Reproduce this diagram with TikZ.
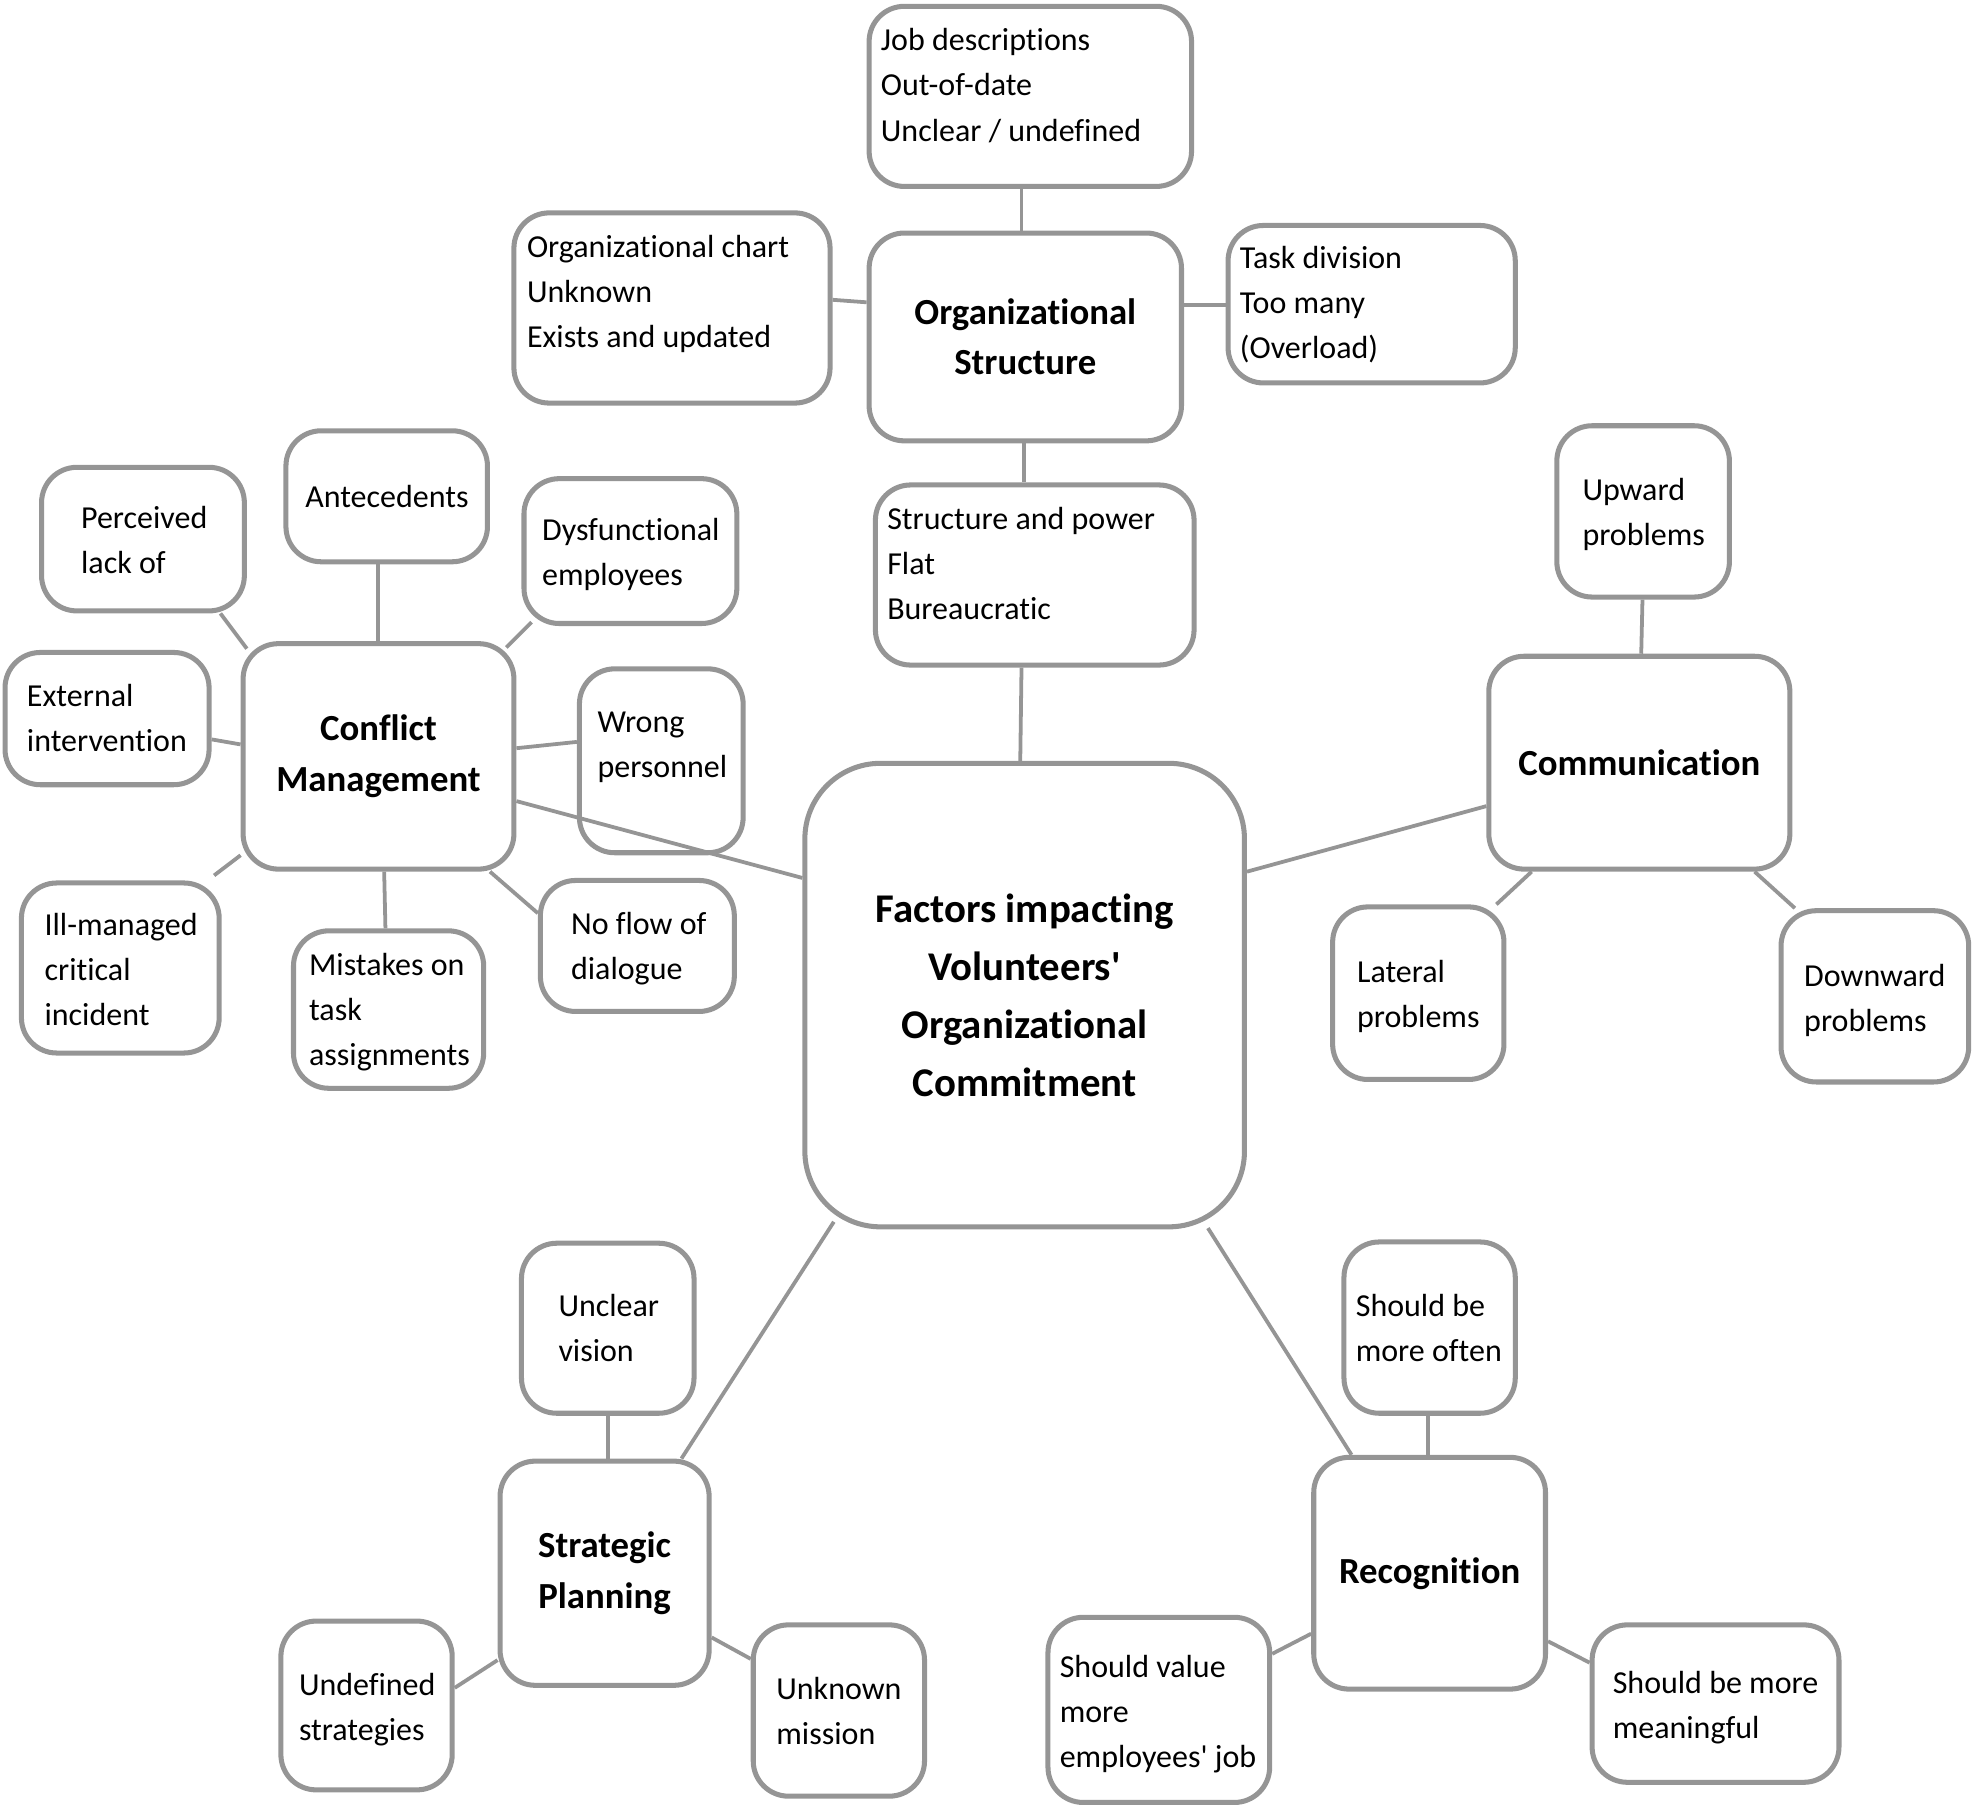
\documentclass[tikz,border=0pt]{standalone}
\usepackage{fontspec}
\setmainfont{Carlito}[Ligatures={TeXOff,NoCommon}]
\usetikzlibrary{fit,calc}
\definecolor{gl}{HTML}{959595}
\tikzset{
 bx/.style={draw=gl, line width=2pt, rounded corners=14pt, inner sep=0pt, fill=white},
 bigbx/.style={bx, rounded corners=30pt},
 txt/.style={align=left, inner sep=0pt, anchor=base west, font=\fontsize{12.7}{17.9}\selectfont},
 btxt/.style={align=center, inner sep=0pt, font=\fontsize{14.6}{20}\selectfont\bfseries},
 ctxt/.style={align=center, inner sep=0pt, font=\fontsize{16.2}{23}\selectfont\bfseries},
 ln/.style={draw=gl, line width=1.5pt},
}
\begin{document}
\begin{tikzpicture}[x=0.5pt, y=-0.5pt]
\useasboundingbox (0,0) rectangle (1568,1437);
% boxes
\node[bx, fit={(690,5) (946,148)}] (jd) {};
\node[bx, fit={(690,185) (938,350)}] (os) {};
\node[bx, fit={(408,169) (659,320)}] (oc) {};
\node[bx, fit={(975,179) (1203,304)}] (td) {};
\node[bx, fit={(695,385) (948,528)}] (sp) {};
\node[bigbx, fit={(639,606) (988,974)}] (ctr) {};
\node[bx, fit={(1182,521) (1421,690)}] (com) {};
\node[bx, fit={(1236,338) (1373,474)}] (up) {};
\node[bx, fit={(1058,720) (1194,857)}] (lat) {};
\node[bx, fit={(1414,723) (1563,859)}] (dn) {};
\node[bx, fit={(193,511) (408,690)}] (cm) {};
\node[bx, fit={(33,371) (194,485)}] (pl) {};
\node[bx, fit={(227,342) (387,446)}] (an) {};
\node[bx, fit={(416,380) (585,495)}] (dy) {};
\node[bx, fit={(4,518) (166,623)}] (ex) {};
\node[bx, fit={(460,531) (590,677)}] (wr) {};
\node[bx, fit={(17,701) (174,836)}] (il) {};
\node[bx, fit={(233,739) (384,864)}] (mi) {};
\node[bx, fit={(429,699) (583,803)}] (nf) {};
\node[bx, fit={(414,987) (551,1122)}] (uv) {};
\node[bx, fit={(397,1160) (563,1338)}] (spl) {};
\node[bx, fit={(223,1287) (359,1421)}] (ud) {};
\node[bx, fit={(598,1290) (734,1426)}] (um) {};
\node[bx, fit={(1067,986) (1203,1122)}] (so) {};
\node[bx, fit={(1043,1157) (1227,1341)}] (rec) {};
\node[bx, fit={(832,1284) (1008,1431)}] (sv) {};
\node[bx, fit={(1264,1290) (1460,1415)}] (mm) {};
% connectors
\draw[ln] (jd.south -| 811,0) -- (os.north -| 811,0);
\draw[ln] (oc.east |- 0,238) -- (os.west |- 0,240);
\draw[ln] (os.east |- 0,242) -- (td.west |- 0,242);
\draw[ln] (os.south -| 813,0) -- (sp.north -| 813,0);
\draw[ln] (sp.south -| 811,0) -- (ctr.north -| 810,0);
\draw[ln] (ctr.west |- 0,697) -- (cm.east |- 0,636);
\draw[ln] (ctr.east |- 0,692) -- (com.west |- 0,640);
\draw[ln] ($(ctr.south west)+(25,-6)$) -- (spl.north -| 541,0);
\draw[ln] ($(ctr.south east)+(-31,-1)$) -- (rec.north -| 1073,0);
\draw[ln] (com.north -| 1303,0) -- (up.south -| 1304,0);
\draw[ln] (com.south -| 1216,0) -- (lat.north -| 1188,0);
\draw[ln] (com.south -| 1393,0) -- (dn.north -| 1425,0);
\draw[ln] (pl.south -| 175,0) -- ($(cm.north west)+(5,6)$);
\draw[ln] (an.south -| 300,0) -- (cm.north -| 300,0);
\draw[ln] ($(dy.south west)+(8,-3)$) -- ($(cm.north east)+(-8,5)$);
\draw[ln] (ex.east |- 0,587) -- (cm.west |- 0,591);
\draw[ln] (cm.east |- 0,594) -- (wr.west |- 0,589);
\draw[ln] ($(il.north east)+(-6,-4)$) -- (cm.west |- 0,679);
\draw[ln] (cm.south -| 305,0) -- (mi.north -| 306,0);
\draw[ln] (cm.south -| 389,0) -- (nf.west |- 0,725);
\draw[ln] (uv.south -| 483,0) -- (spl.north -| 483,0);
\draw[ln] (ud.east |- 0,1340) -- (spl.west |- 0,1318);
\draw[ln] (spl.east |- 0,1300) -- (um.west |- 0,1317);
\draw[ln] (so.south -| 1134,0) -- (rec.north -| 1134,0);
\draw[ln] (sv.east |- 0,1313) -- (rec.west |- 0,1297);
\draw[ln] (rec.east |- 0,1303) -- (mm.west |- 0,1320);
% texts (anchored at the baseline of the last line)
\node[txt] (jd-t) at (699,112) {Job descriptions\\Out-of-date\\Unclear / undefined};
\node[btxt] (os-t) at (os.center) {Organizational\\Structure};
\node[txt] (oc-t) at (418,276) {Organizational chart\\Unknown\\Exists and updated};
\node[txt] (td-t) at (984,285) {Task division\\Too many\\(Overload)};
\node[txt] (sp-t) at (704,492) {Structure and power\\Flat\\Bureaucratic};
\node[ctxt] (ctr-t) at (ctr.center) {Factors impacting\\Volunteers'\\Organizational\\Commitment};
\node[btxt] (com-t) at (com.center) {Communication};
\node[txt] (up-t) at (1256,433) {Upward\\problems};
\node[txt] (lat-t) at (1077,816) {Lateral\\problems};
\node[txt] (dn-t) at (1432,819) {Downward\\problems};
\node[btxt] (cm-t) at (cm.center) {Conflict\\Management};
\node[txt] (pl-t) at (64,455) {Perceived\\lack of};
\node[txt] (an-t) at (242,403) {Antecedents};
\node[txt] (dy-t) at (430,465) {Dysfunctional\\employees};
\node[txt] (ex-t) at (21,597) {External\\intervention};
\node[txt] (wr-t) at (474,617) {Wrong\\personnel};
\node[txt] (il-t) at (35,814) {Ill-managed\\critical\\incident};
\node[txt] (mi-t) at (245,846) {Mistakes on\\task\\assignments};
\node[txt] (nf-t) at (453,778) {No flow of\\dialogue};
\node[txt] (uv-t) at (443,1081) {Unclear\\vision};
\node[btxt] (spl-t) at (spl.center) {Strategic\\Planning};
\node[txt] (ud-t) at (237,1382) {Undefined\\strategies};
\node[txt] (um-t) at (616,1385) {Unknown\\mission};
\node[txt] (so-t) at (1076,1081) {Should be\\more often};
\node[btxt] (rec-t) at (rec.center) {Recognition};
\node[txt] (sv-t) at (841,1403) {Should value\\more\\employees' job};
\node[txt] (mm-t) at (1280,1380) {Should be more\\meaningful};
\end{tikzpicture}
\end{document}
